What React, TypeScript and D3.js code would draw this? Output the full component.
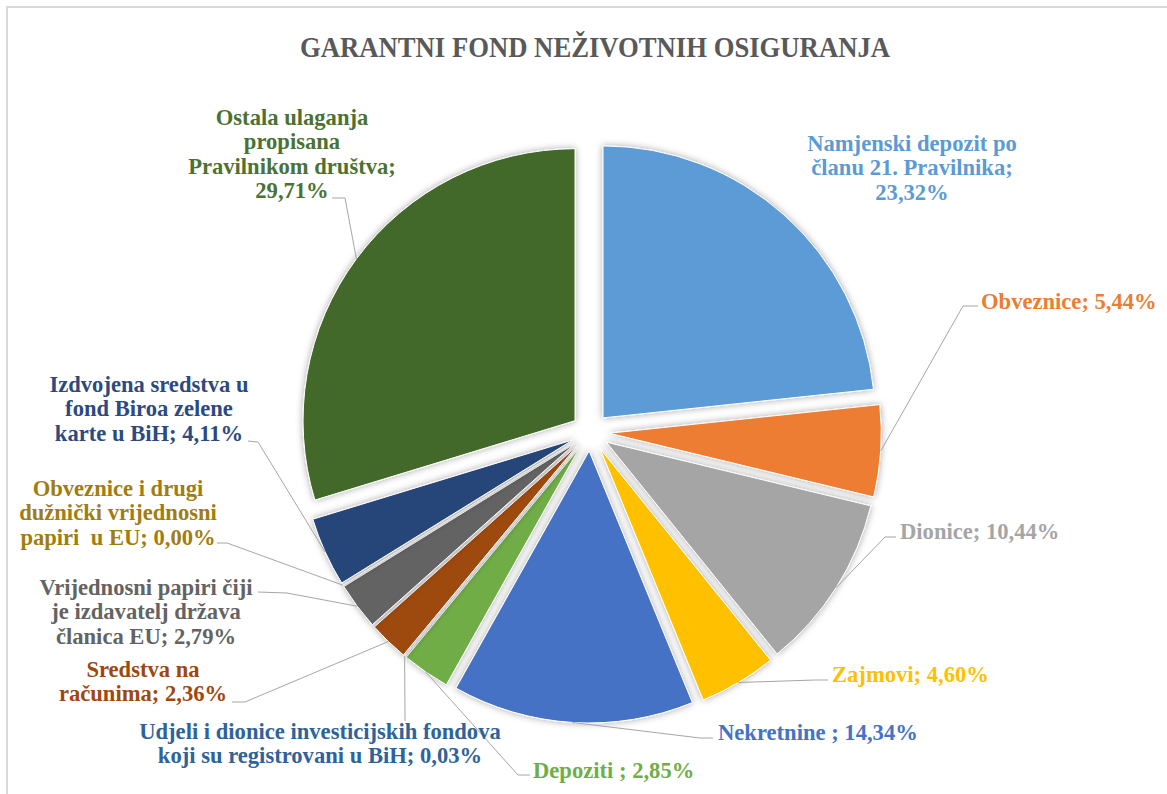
import React from "react";
import * as d3 from "d3";

// ---- data ----
const categories = [
  "Namjenski depozit po članu 21. Pravilnika",
  "Obveznice",
  "Dionice",
  "Zajmovi",
  "Nekretnine",
  "Depoziti",
  "Udjeli i dionice investicijskih fondova koji su registrovani u BiH",
  "Sredstva na računima",
  "Vrijednosni papiri čiji je izdavatelj država članica EU",
  "Obveznice i drugi dužnički vrijednosni papiri u EU",
  "Izdvojena sredstva u fond Biroa zelene karte u BiH",
  "Ostala ulaganja propisana Pravilnikom društva",
];
const values = [23.32, 5.44, 10.44, 4.6, 14.34, 2.85, 0.03, 2.36, 2.79, 0.0, 4.11, 29.71];
const labelLines = [
  ["Namjenski depozit po", "članu 21. Pravilnika;", "{p}"],
  ["Obveznice; {p}"],
  ["Dionice; {p}"],
  ["Zajmovi; {p}"],
  ["Nekretnine ; {p}"],
  ["Depoziti ; {p}"],
  ["Udjeli i dionice investicijskih fondova", "koji su registrovani u BiH; {p}"],
  ["Sredstva na", "računima; {p}"],
  ["Vrijednosni papiri čiji", "je izdavatelj država", "članica EU; {p}"],
  ["Obveznice i drugi", "dužnički vrijednosni", "papiri  u EU; {p}"],
  ["Izdvojena sredstva u", "fond Biroa zelene", "karte u BiH; {p}"],
  ["Ostala ulaganja", "propisana", "Pravilnikom društva;", "{p}"],
];
const title = "GARANTNI FOND NEŽIVOTNIH OSIGURANJA";

// ---- styles ----
const sliceColors = [
  "#5B9BD5", "#ED7D31", "#A5A5A5", "#FFC000", "#4472C4", "#70AD47",
  "#255E91", "#9E480E", "#636363", "#997300", "#264478", "#43682B",
];
const labelColors = [
  "#5B9BD5", "#ED7D31", "#A5A5A5", "#FFC000", "#4472C4", "#70AD47",
  "#2E6399", "#9E480E", "#636363", "#A07D10", "#2D4A80", "#4A7232",
];

// ---- layout ----
const W = 1167, H = 794;
const CX = 590.3, CY = 432, R = 272, OFF = 19;
const FONT = "'Liberation Serif', 'DejaVu Serif', serif";
const FS = 22.6, LH = 24.6;

type Lay = { x: number; y: number; anchor: "start" | "middle" | "end"; leader: number[][] | null };
const labelLayout: Lay[] = [
  { x: 912, y: 143, anchor: "middle", leader: null },
  { x: 981, y: 301, anchor: "start", leader: [[978, 306], [963, 306]] },
  { x: 900, y: 531, anchor: "start", leader: [[896, 537], [885, 537]] },
  { x: 832, y: 674, anchor: "start", leader: [[828, 680], [815, 680]] },
  { x: 718, y: 732, anchor: "start", leader: [[713, 738], [700, 738]] },
  { x: 533, y: 770, anchor: "start", leader: [[530, 775], [518, 775]] },
  { x: 320, y: 731, anchor: "middle", leader: [[405, 721], [405, 719]] },
  { x: 143, y: 669, anchor: "middle", leader: [[232, 702], [245, 702]] },
  { x: 146, y: 587, anchor: "middle", leader: [[258, 592], [287, 593]] },
  { x: 118, y: 488, anchor: "middle", leader: [[217, 543], [227, 543]] },
  { x: 149, y: 384, anchor: "middle", leader: [[248, 441], [258, 442]] },
  { x: 292, y: 117, anchor: "middle", leader: [[332, 198], [345, 198]] },
];

const fmt = (v: number) => v.toFixed(2).replace(".", ",") + "%";

export default function App() {
  const pie = d3.pie<number>().sort(null).value((d) => d)(values);
  const arc = d3.arc<d3.PieArcDatum<number>>().innerRadius(0).outerRadius(R);

  return (
    <svg
      width={W}
      height={H}
      style={{ position: "absolute", left: 0, top: 0, background: "#fff" }}
    >
      <defs>
        <filter id="sh" x="-20%" y="-20%" width="140%" height="140%">
          <feDropShadow dx="0" dy="0" stdDeviation="3.5" floodColor="#000" floodOpacity="0.35" />
        </filter>
      </defs>
      <rect x={7} y={7} width={W + 10} height={H + 10} fill="#fff" stroke="#d9d9d9" strokeWidth={2} />
      <text
        x={595}
        y={47}
        textAnchor="middle"
        dominantBaseline="central"
        fontFamily={FONT}
        fontWeight="bold"
        fontSize={29}
        fill="#595959"
        textLength={590}
        lengthAdjust="spacingAndGlyphs"
      >
        {title}
      </text>

      <g>
        {pie.map((d, i) => {
          const mid = (d.startAngle + d.endAngle) / 2;
          const dx = OFF * Math.sin(mid);
          const dy = -OFF * Math.cos(mid);
          return (
            <path
              key={categories[i]}
              d={arc(d) || ""}
              transform={`translate(${CX + dx},${CY + dy})`}
              fill={sliceColors[i]}
              stroke="#fff"
              strokeWidth={1}
              filter="url(#sh)"
            />
          );
        })}
      </g>

      <g>
        {pie.map((d, i) => {
          const lay = labelLayout[i];
          if (!lay.leader) return null;
          const mid = (d.startAngle + d.endAngle) / 2;
          const ex = CX + (OFF + R) * Math.sin(mid);
          const ey = CY - (OFF + R) * Math.cos(mid);
          const pts = [...lay.leader, [ex, ey]];
          return (
            <polyline
              key={"l" + i}
              points={pts.map((p) => p.join(",")).join(" ")}
              fill="none"
              stroke="#a6a6a6"
              strokeWidth={1}
            />
          );
        })}
      </g>

      <g fontFamily={FONT} fontWeight="bold" fontSize={FS}>
        {values.map((v, i) => {
          const lay = labelLayout[i];
          return (
            <text
              key={"t" + i}
              textAnchor={lay.anchor}
              fill={labelColors[i]}
              style={{ whiteSpace: "pre" }}
            >
              {labelLines[i].map((ln, j) => (
                <tspan key={j} x={lay.x} y={lay.y + j * LH} dominantBaseline="central">
                  {ln.replace("{p}", fmt(v))}
                </tspan>
              ))}
            </text>
          );
        })}
      </g>
    </svg>
  );
}
